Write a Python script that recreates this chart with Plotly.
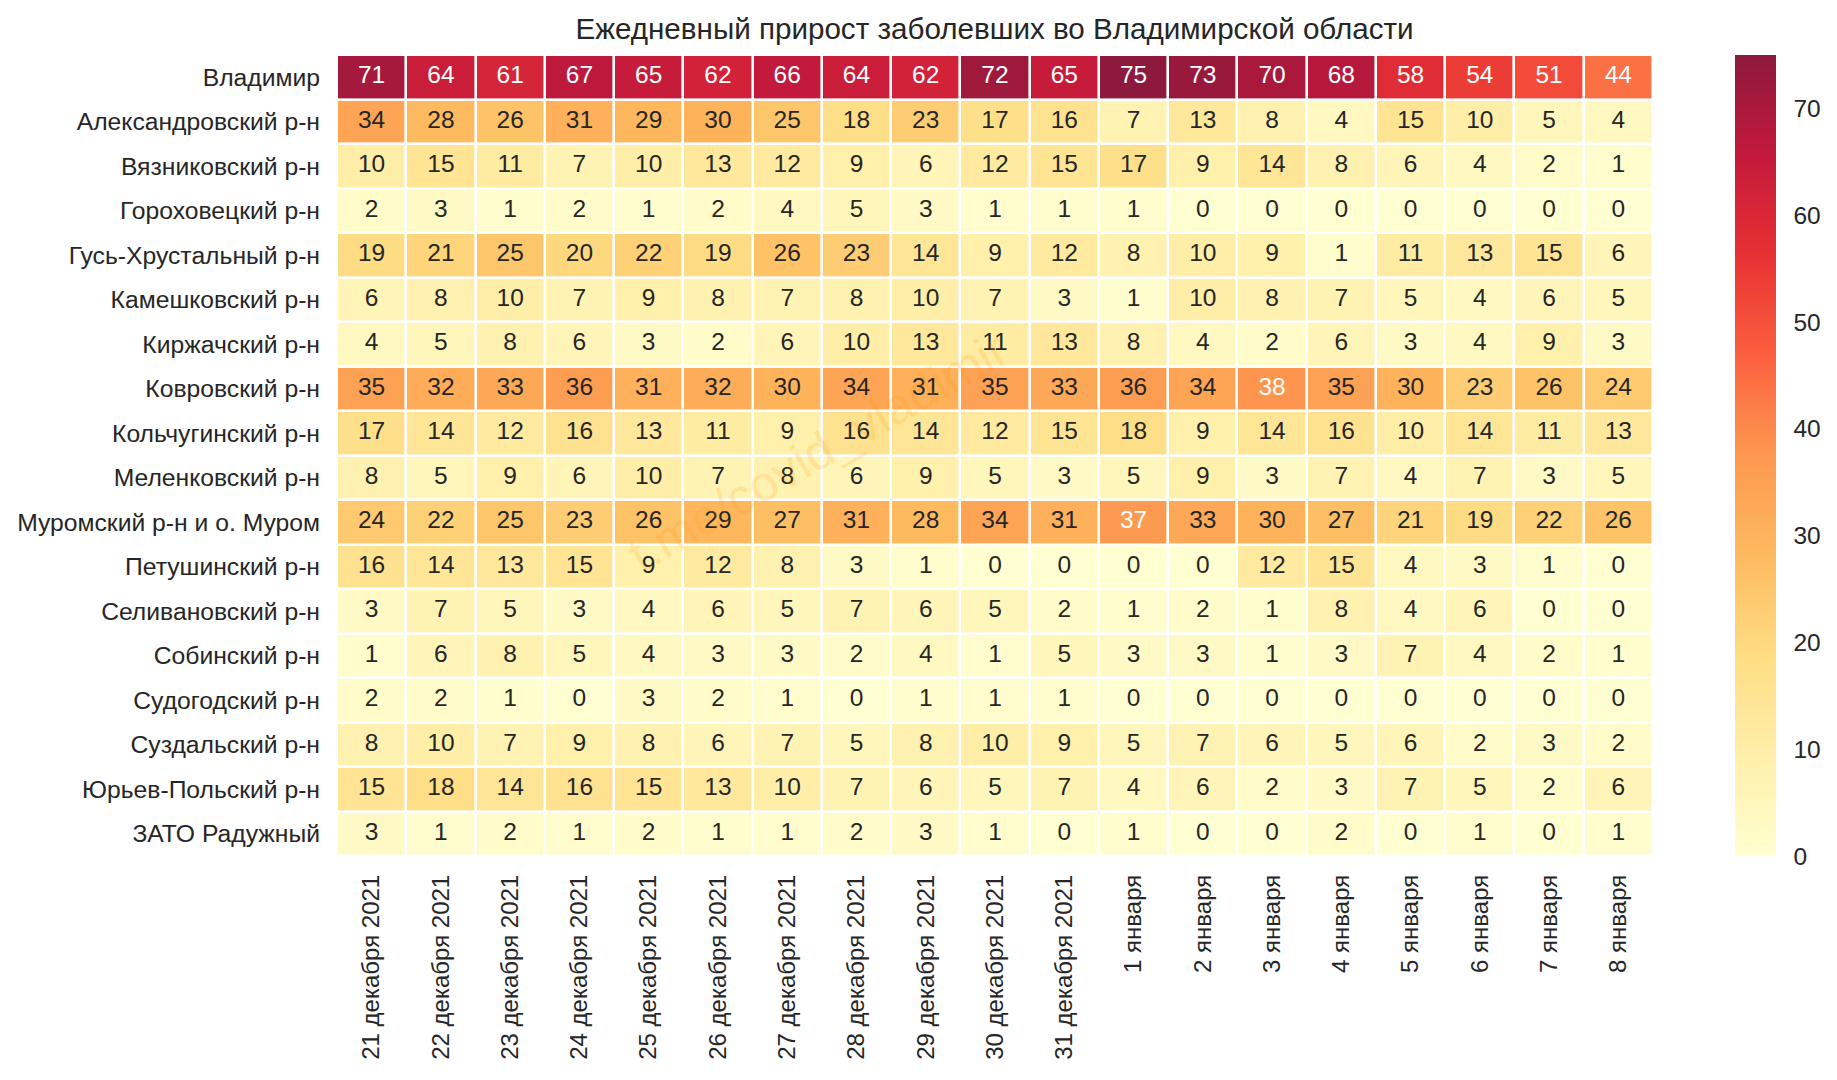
import plotly.graph_objects as go

W, H = 1837, 1080
title = "Ежедневный прирост заболевших во Владимирской области"
watermark = "t.me/covid_vladimir"

dates = ["21 декабря 2021", "22 декабря 2021", "23 декабря 2021", "24 декабря 2021",
         "25 декабря 2021", "26 декабря 2021", "27 декабря 2021", "28 декабря 2021",
         "29 декабря 2021", "30 декабря 2021", "31 декабря 2021", "1 января", "2 января",
         "3 января", "4 января", "5 января", "6 января", "7 января", "8 января"]
districts = ["Владимир", "Александровский р-н", "Вязниковский р-н", "Гороховецкий р-н",
             "Гусь-Хрустальный р-н", "Камешковский р-н", "Киржачский р-н", "Ковровский р-н",
             "Кольчугинский р-н", "Меленковский р-н", "Муромский р-н и о. Муром",
             "Петушинский р-н", "Селивановский р-н", "Собинский р-н", "Судогодский р-н",
             "Суздальский р-н", "Юрьев-Польский р-н", "ЗАТО Радужный"]

vladimir = [71, 64, 61, 67, 65, 62, 66, 64, 62, 72, 65, 75, 73, 70, 68, 58, 54, 51, 44]
aleksandrov = [34, 28, 26, 31, 29, 30, 25, 18, 23, 17, 16, 7, 13, 8, 4, 15, 10, 5, 4]
vyazniki = [10, 15, 11, 7, 10, 13, 12, 9, 6, 12, 15, 17, 9, 14, 8, 6, 4, 2, 1]
gorokhovets = [2, 3, 1, 2, 1, 2, 4, 5, 3, 1, 1, 1, 0, 0, 0, 0, 0, 0, 0]
gus = [19, 21, 25, 20, 22, 19, 26, 23, 14, 9, 12, 8, 10, 9, 1, 11, 13, 15, 6]
kameshkovo = [6, 8, 10, 7, 9, 8, 7, 8, 10, 7, 3, 1, 10, 8, 7, 5, 4, 6, 5]
kirzhach = [4, 5, 8, 6, 3, 2, 6, 10, 13, 11, 13, 8, 4, 2, 6, 3, 4, 9, 3]
kovrov = [35, 32, 33, 36, 31, 32, 30, 34, 31, 35, 33, 36, 34, 38, 35, 30, 23, 26, 24]
kolchugino = [17, 14, 12, 16, 13, 11, 9, 16, 14, 12, 15, 18, 9, 14, 16, 10, 14, 11, 13]
melenki = [8, 5, 9, 6, 10, 7, 8, 6, 9, 5, 3, 5, 9, 3, 7, 4, 7, 3, 5]
murom = [24, 22, 25, 23, 26, 29, 27, 31, 28, 34, 31, 37, 33, 30, 27, 21, 19, 22, 26]
petushki = [16, 14, 13, 15, 9, 12, 8, 3, 1, 0, 0, 0, 0, 12, 15, 4, 3, 1, 0]
selivanovo = [3, 7, 5, 3, 4, 6, 5, 7, 6, 5, 2, 1, 2, 1, 8, 4, 6, 0, 0]
sobinka = [1, 6, 8, 5, 4, 3, 3, 2, 4, 1, 5, 3, 3, 1, 3, 7, 4, 2, 1]
sudogda = [2, 2, 1, 0, 3, 2, 1, 0, 1, 1, 1, 0, 0, 0, 0, 0, 0, 0, 0]
suzdal = [8, 10, 7, 9, 8, 6, 7, 5, 8, 10, 9, 5, 7, 6, 5, 6, 2, 3, 2]
yuryev = [15, 18, 14, 16, 15, 13, 10, 7, 6, 5, 7, 4, 6, 2, 3, 7, 5, 2, 6]
raduzhny = [3, 1, 2, 1, 2, 1, 1, 2, 3, 1, 0, 1, 0, 0, 2, 0, 1, 0, 1]

z = [vladimir, aleksandrov, vyazniki, gorokhovets, gus, kameshkovo, kirzhach, kovrov,
     kolchugino, melenki, murom, petushki, selivanovo, sobinka, sudogda, suzdal, yuryev,
     raduzhny]

# matplotlib YlOrRd stops, drawn at alpha 0.9 over white
stops = [(255, 255, 204), (255, 237, 160), (254, 217, 118), (254, 178, 76), (253, 141, 60),
         (252, 78, 42), (227, 26, 28), (189, 0, 38), (128, 0, 38)]
ALPHA = 0.9
colorscale = []
for i, c in enumerate(stops):
    r, g, b = [round(ALPHA * v + (1 - ALPHA) * 255) for v in c]
    colorscale.append([i / (len(stops) - 1), f"rgb({r},{g},{b})"])

DARK = "#262626"
FONT = "Liberation Sans, Arial, sans-serif"

fig = go.Figure()
fig.add_trace(go.Heatmap(
    z=z, x=dates, y=districts, zmin=0, zmax=75, colorscale=colorscale,
    xgap=2.6, ygap=2.6, hoverongaps=False,
    colorbar=dict(
        x=1735 / W, xanchor="left", xref="paper", thickness=41, thicknessmode="pixels",
        y=1 - 856 / H, yanchor="bottom", yref="paper", len=(856 - 55) / H, lenmode="fraction",
        outlinewidth=0, borderwidth=0, xpad=0, ypad=0, ticks="outside", ticklen=13,
        tickcolor="rgba(0,0,0,0)", tick0=0, dtick=10,
        ticklabelposition="outside", tickfont=dict(family=FONT, size=24.5, color=DARK),
    ),
))

tx, ty, tt, tc = [], [], [], []
for name, row in zip(districts, z):
    for d, v in zip(dates, row):
        tx.append(d)
        ty.append(name)
        tt.append(str(v))
        tc.append("white" if v >= 37 else DARK)
fig.add_trace(go.Scatter(
    x=tx, y=ty, text=tt, mode="text", textposition="middle center",
    textfont=dict(family=FONT, size=24.5, color=tc), hoverinfo="skip", showlegend=False,
))

fig.update_layout(
    width=W, height=H, autosize=False,
    paper_bgcolor="white", plot_bgcolor="white",
    margin=dict(l=0, r=0, t=0, b=0, autoexpand=False),
    font=dict(family=FONT, color=DARK),
    title=dict(text=title, x=994.5 / W, xanchor="center", xref="paper",
               y=1 - 29 / H, yanchor="middle", yref="container",
               font=dict(family=FONT, size=29.6, color=DARK)),
    xaxis=dict(domain=[337 / W, 1653 / W], type="category", tickangle=-90, showgrid=False,
               zeroline=False, showline=False, ticks="", automargin=False,
               ticklabelstandoff=13, tickfont=dict(family=FONT, size=24, color=DARK),
               range=[-0.5, 18.5]),
    yaxis=dict(domain=[1 - 856 / H, 1 - 55 / H], type="category", showgrid=False,
               zeroline=False, showline=False, ticks="", automargin=False,
               ticklabelstandoff=16, tickfont=dict(family=FONT, size=24.7, color=DARK),
               range=[17.5, -0.5]),
    annotations=[dict(text=watermark, xref="paper", yref="paper",
                      x=818 / W, y=1 - 452 / H,
                      xanchor="center", yanchor="middle", textangle=-30, showarrow=False,
                      font=dict(family=FONT, size=50, color="rgba(255,150,0,0.16)"))],
)

fig.write_html("out.html", config={"displayModeBar": False},
               post_script="document.body.style.margin='0';document.body.style.overflow='hidden';")
